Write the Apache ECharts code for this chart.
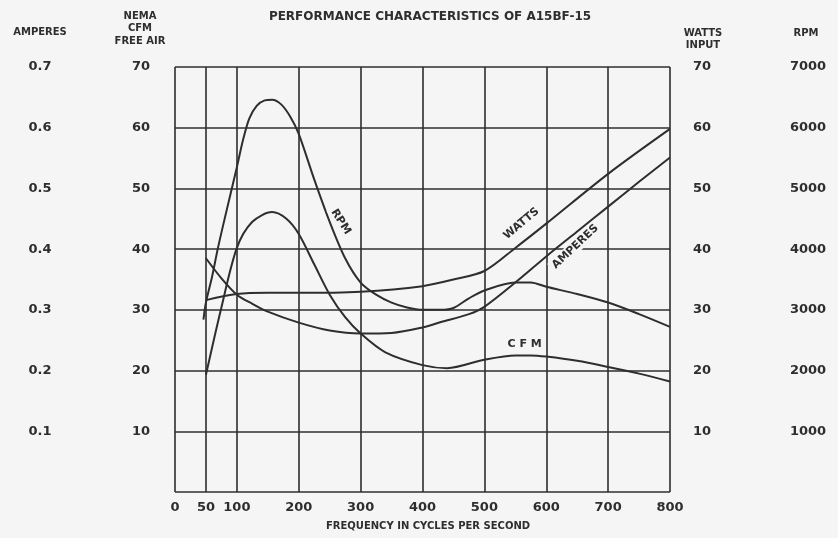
<!DOCTYPE html>
<html><head><meta charset="utf-8">
<script src="https://cdn.jsdelivr.net/npm/echarts@6/dist/echarts.min.js"></script>
<style>html,body{margin:0;padding:0;background:#f5f5f5}#c{width:838px;height:538px}</style>
</head><body><div id="c"></div>
<script>
// ---- data ----
const freqTicks = [0, 50, 100, 200, 300, 400, 500, 600, 700, 800];

const rpmFreq   = [46, 50, 60, 69, 80, 100, 110, 120, 132, 145, 157, 172, 187, 200, 225, 250, 275, 300, 325, 350, 375, 400, 430, 450, 475, 500, 550, 575, 600, 650, 700, 750, 800];
const rpmValues = [2840, 3120, 3550, 4000, 4490, 5350, 5800, 6150, 6360, 6450, 6460, 6380, 6170, 5900, 5150, 4450, 3850, 3450, 3250, 3120, 3040, 3000, 3000, 3030, 3190, 3320, 3450, 3450, 3380, 3260, 3120, 2930, 2720];

const wattsFreq   = [50, 100, 150, 200, 300, 400, 450, 500, 550, 600, 700, 800];
const wattsValues = [31.6, 32.6, 32.8, 32.8, 33.0, 33.9, 35.0, 36.4, 40.2, 44.2, 52.4, 59.8];

const ampFreq   = [50, 75, 100, 125, 150, 200, 250, 300, 350, 400, 430, 475, 500, 550, 600, 650, 700, 750, 800];
const ampValues = [0.385, 0.352, 0.325, 0.310, 0.297, 0.279, 0.266, 0.261, 0.262, 0.271, 0.280, 0.293, 0.305, 0.345, 0.388, 0.429, 0.470, 0.511, 0.551];

const cfmFreq   = [50, 75, 100, 125, 157, 180, 200, 225, 250, 275, 300, 340, 400, 440, 500, 550, 575, 600, 650, 700, 750, 800];
const cfmValues = [19.3, 30.4, 40.2, 44.5, 46.1, 45.0, 42.5, 37.5, 32.5, 28.8, 26.1, 23.0, 20.9, 20.4, 21.8, 22.5, 22.5, 22.3, 21.6, 20.6, 19.5, 18.2];

// ---- chart ----
const ink = '#2e2e2e';
const font = 'DejaVu Sans';
const zip = (a, b) => a.map((x, i) => [x, b[i]]);
const lbl = (txt, rot) => ({
  show: true, position: 'inside', formatter: txt, rotate: rot,
  color: ink, fontFamily: font, fontWeight: 'bold', fontSize: 11,
  backgroundColor: '#f5f5f5', padding: [1, 3]
});
const axLabel = (margin, fmt) => ({
  color: ink, fontFamily: font, fontWeight: 'bold', fontSize: 13,
  align: 'center', margin: margin, formatter: fmt
});
const hideZero = v => (v === 0 ? '' : String(v));

const chart = echarts.init(document.getElementById('c'), null, {renderer: 'canvas'});
const lineBase = {type: 'line', smooth: 0.3, showSymbol: false, symbol: 'none',
  lineStyle: {color: ink, width: 2}, itemStyle: {color: ink}, z: 3};

chart.setOption({
  backgroundColor: '#f5f5f5',
  animation: false,
  grid: {left: 175, right: 168, top: 67, bottom: 46},
  xAxis: {
    type: 'value', min: 0, max: 800,
    axisLine: {show: false},
    axisTick: {show: false, customValues: freqTicks},
    axisLabel: {customValues: freqTicks, color: ink, fontFamily: font, fontWeight: 'bold', fontSize: 13, margin: 9},
    splitLine: {show: true, lineStyle: {color: ink, width: 1.6}}
  },
  yAxis: [
    {type: 'value', min: 0, max: 70, interval: 10, position: 'left',
     axisLine: {show: false}, axisTick: {show: false},
     splitLine: {show: true, lineStyle: {color: ink, width: 1.6}},
     axisLabel: axLabel(34, hideZero)},
    {type: 'value', min: 0, max: 0.7, interval: 0.1, position: 'left',
     axisLine: {show: false}, axisTick: {show: false}, splitLine: {show: false},
     axisLabel: axLabel(135, v => (v === 0 ? '' : v.toFixed(1)))},
    {type: 'value', min: 0, max: 70, interval: 10, position: 'right',
     axisLine: {show: false}, axisTick: {show: false}, splitLine: {show: false},
     axisLabel: axLabel(32, hideZero)},
    {type: 'value', min: 0, max: 7000, interval: 1000, position: 'right',
     axisLine: {show: false}, axisTick: {show: false}, splitLine: {show: false},
     axisLabel: axLabel(138, hideZero)}
  ],
  series: [
    Object.assign({}, lineBase, {name: 'RPM', yAxisIndex: 3, data: zip(rpmFreq, rpmValues),
      markPoint: {symbol: 'circle', symbolSize: 0, silent: true,
        data: [{coord: [268, 4450], label: lbl('RPM', -58)}]}}),
    Object.assign({}, lineBase, {name: 'WATTS', yAxisIndex: 2, data: zip(wattsFreq, wattsValues),
      markPoint: {symbol: 'circle', symbolSize: 0, silent: true,
        data: [{coord: [560, 44.2], label: lbl('WATTS', 40)}]}}),
    Object.assign({}, lineBase, {name: 'AMPERES', yAxisIndex: 1, data: zip(ampFreq, ampValues),
      markPoint: {symbol: 'circle', symbolSize: 0, silent: true,
        data: [{coord: [647, 0.404], label: lbl('AMPERES', 43)}]}}),
    Object.assign({}, lineBase, {name: 'CFM', yAxisIndex: 0, data: zip(cfmFreq, cfmValues),
      markPoint: {symbol: 'circle', symbolSize: 0, silent: true,
        data: [{coord: [565, 24.3], label: lbl('C F M', 0)}]}})
  ],
  graphic: [
    {type: 'text', x: 430, y: 17, style: {text: 'PERFORMANCE CHARACTERISTICS OF A15BF-15', align: 'center', verticalAlign: 'middle', fill: ink, font: 'bold 12px "DejaVu Sans"'}},
    {type: 'text', x: 40, y: 32, style: {text: 'AMPERES', align: 'center', verticalAlign: 'middle', fill: ink, font: 'bold 10px "DejaVu Sans"'}},
    {type: 'text', x: 140, y: 16, style: {text: 'NEMA', align: 'center', verticalAlign: 'middle', fill: ink, font: 'bold 10px "DejaVu Sans"'}},
    {type: 'text', x: 140, y: 28, style: {text: 'CFM', align: 'center', verticalAlign: 'middle', fill: ink, font: 'bold 10px "DejaVu Sans"'}},
    {type: 'text', x: 140, y: 41, style: {text: 'FREE AIR', align: 'center', verticalAlign: 'middle', fill: ink, font: 'bold 10px "DejaVu Sans"'}},
    {type: 'text', x: 703, y: 33, style: {text: 'WATTS', align: 'center', verticalAlign: 'middle', fill: ink, font: 'bold 10px "DejaVu Sans"'}},
    {type: 'text', x: 703, y: 45, style: {text: 'INPUT', align: 'center', verticalAlign: 'middle', fill: ink, font: 'bold 10px "DejaVu Sans"'}},
    {type: 'text', x: 806, y: 33, style: {text: 'RPM', align: 'center', verticalAlign: 'middle', fill: ink, font: 'bold 10px "DejaVu Sans"'}},
    {type: 'text', x: 428, y: 526, style: {text: 'FREQUENCY IN CYCLES PER SECOND', align: 'center', verticalAlign: 'middle', fill: ink, font: 'bold 10px "DejaVu Sans"'}}
  ]
});
</script>
</body></html>
